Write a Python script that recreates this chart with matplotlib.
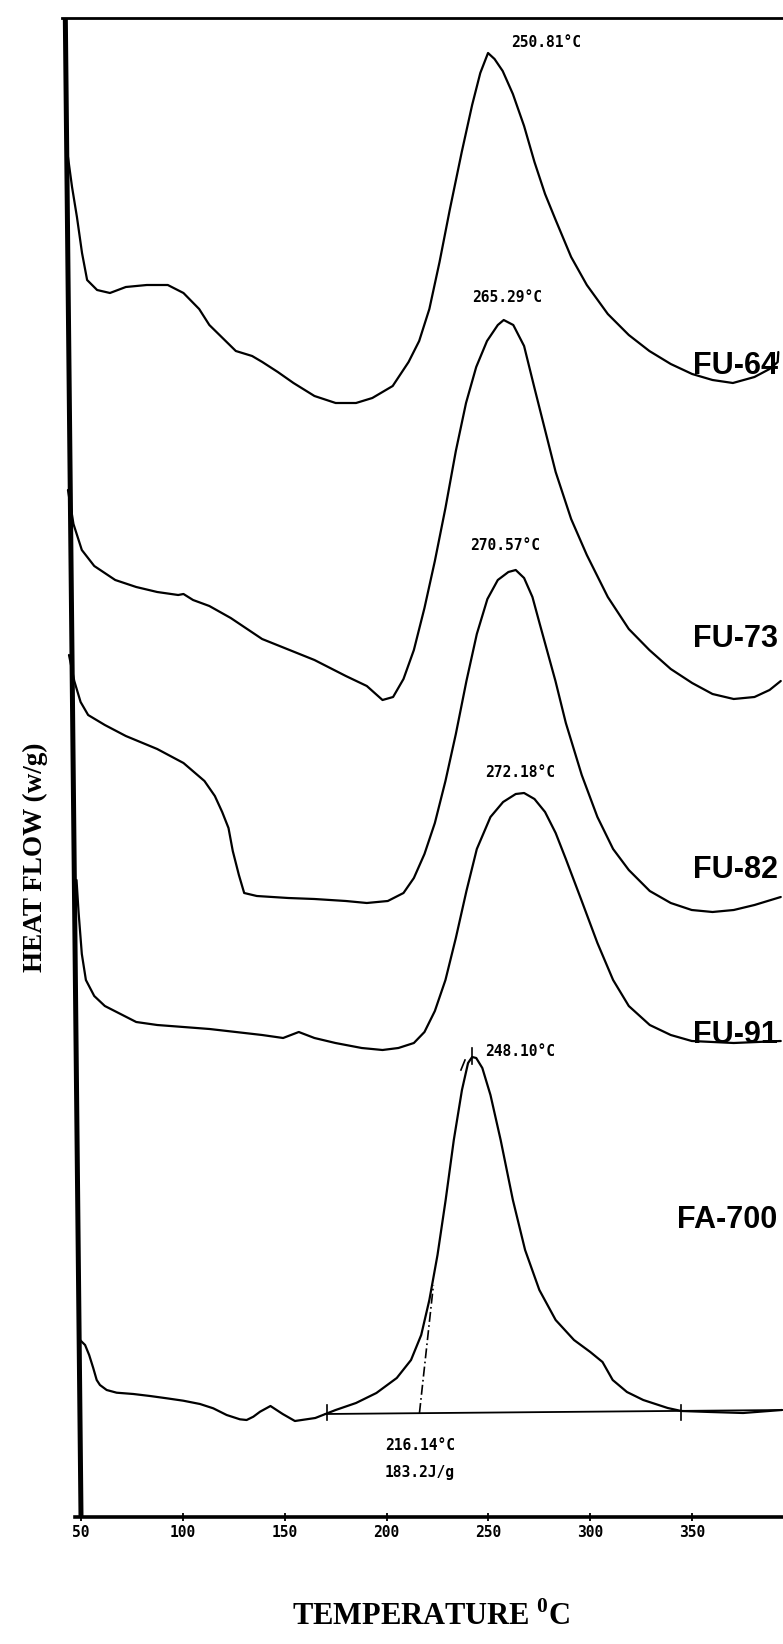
import matplotlib
matplotlib.use("Agg")
import matplotlib.pyplot as plt
import numpy as np

plt.rcParams['mathtext.fontset'] = 'custom'
plt.rcParams['mathtext.bf'] = 'Liberation Serif:bold'
plt.rcParams['mathtext.rm'] = 'Liberation Serif:bold'

# ---- data (temperature in C, vertical position in chart units, larger = lower) ----
fu64_T = [43.6, 45.6, 48, 50.5, 53, 57.9, 64.2, 72, 82.3, 92.6, 100.3, 108, 113, 121, 126, 134, 139,
          146.6, 154.3, 164.6, 175, 185, 193, 203, 210.8, 216, 221, 226, 231, 236.9, 242, 246, 249.8,
          253, 257, 262, 267.5, 272.6, 277.8, 283, 290.6, 298.3, 308.6, 318.9, 329, 339.5, 350, 360,
          370, 380.6, 388, 392, 392.3]
fu64_y = [157, 187, 217, 253, 280, 290, 293, 287, 285, 285, 293, 309, 325, 341, 351, 356, 362,
          372, 383, 396, 403, 403, 398, 386, 362, 341, 309, 262, 210, 152, 105, 73, 53,
          59, 71, 94, 126, 162, 194, 220, 257, 285, 314, 335, 351, 364, 374, 380,
          383, 377, 369, 362, 352]

fu73_T = [43.6, 46.3, 50.4, 56.5, 66.8, 77.1, 87.4, 97.7, 100.3, 105, 113, 123.5, 138.9, 164.6, 180,
          190.3, 198, 203.2, 208.3, 213.4, 218.6, 223.7, 228.9, 234, 239, 244, 249.3, 254.6, 257.5,
          262.2, 267.5, 272.6, 277.8, 283, 290.6, 298.3, 308.6, 318.9, 329, 339.5, 350, 360, 370.4,
          380.6, 388, 393.5]
fu73_y = [490, 524, 550, 566, 580, 587, 592, 595, 594, 600, 606, 618, 639, 660, 676,
          686, 700, 697, 679, 650, 608, 561, 508, 451, 403, 367, 341, 325, 320,
          325, 346, 388, 430, 472, 519, 555, 597, 629, 650, 669, 683, 694, 699,
          697, 690, 681]

fu82_T = [44.1, 46.7, 49.8, 53.5, 61.7, 72, 87.4, 100.3, 110.6, 115.7, 119.3, 122.4, 124.5, 127.5,
          130.1, 136.3, 151.7, 164.6, 180, 190.3, 200.6, 208.3, 213.4, 218.6, 223.7, 228.9, 234,
          239.2, 244.3, 249.5, 254.6, 259.8, 263.4, 267.5, 271.6, 275.2, 282.9, 288, 295.8, 303.5,
          311.2, 318.9, 329.2, 339.5, 349.8, 360, 370.4, 380.6, 393.5]
fu82_y = [655, 681, 702, 715, 725, 736, 749, 763, 781, 796, 812, 828, 851, 875,
          893, 896, 898, 899, 901, 903, 901, 893, 878, 854, 823, 781, 734,
          681, 634, 599, 580, 572, 570, 578, 597, 624, 681, 723, 775, 817,
          849, 870, 891, 903, 910, 912, 910, 905, 897]

fu91_T = [47.8, 48.8, 50.4, 52.4, 56.5, 61.7, 69.4, 77.1, 87.4, 100.3, 113.1, 126, 138.9, 149.2, 156.9,
          164.6, 174.9, 187.8, 198, 205.8, 213.4, 218.6, 223.7, 228.9, 234, 239.2, 244.3, 251, 257.2,
          263.4, 267.5, 272.6, 277.8, 283, 288, 295.8, 303.5, 311.2, 318.9, 329.2, 339.5, 349.8,
          370.4, 393.5]
fu91_y = [880, 912, 954, 980, 996, 1006, 1014, 1022, 1025, 1027, 1029, 1032, 1035, 1038, 1032,
          1038, 1043, 1048, 1050, 1048, 1043, 1032, 1011, 980, 938, 891, 849, 817, 802,
          794, 793, 799, 812, 833, 859, 901, 943, 980, 1006, 1025, 1035, 1041,
          1043, 1041]

fa700_T = [49.5, 52, 54, 56, 57.7, 59.3, 62.6, 67.5, 75.7, 83.9, 92.1, 100.2, 108.4, 114.9, 121.5, 128,
           131.3, 134.6, 137.9, 143, 149, 155, 165, 175, 185, 195, 205, 212, 217, 221, 225, 229, 233,
           237, 240, 242, 244, 247, 251, 256, 262, 268, 275, 283, 292, 300, 306, 311, 318, 326, 338,
           344.7, 359, 375, 394]
fa700_y = [1340, 1345, 1355, 1368, 1380, 1385, 1390, 1392.7, 1394, 1396, 1398.3, 1400.7, 1404, 1408.3,
           1415, 1419.3, 1420, 1416.7, 1411.7, 1406, 1414, 1421, 1418, 1410, 1403, 1393, 1378, 1360,
           1335, 1300, 1255, 1200, 1140, 1090, 1063, 1057, 1058, 1068, 1095, 1140, 1200, 1250, 1290,
           1320, 1340, 1352, 1362, 1380, 1392, 1400, 1408, 1411, 1412, 1413, 1410]

# baseline / onset construction for FA-700
base_T = [170, 394.6]
base_y = [1414, 1410]
base_ticks_T = [171, 344.7]
onset_T = [216.14, 223.0]
onset_y = [1413, 1285]

curve_names = ["FU-64", "FU-73", "FU-82", "FU-91", "FA-700"]
curve_label_y = [366, 639, 870, 1035, 1220]
peak_texts = ["250.81\u00b0C", "265.29\u00b0C", "270.57\u00b0C", "272.18\u00b0C", "248.10\u00b0C"]
peak_text_T = [278.3, 259.1, 258.2, 265.5, 265.5]
peak_text_y = [42, 297, 545, 772, 1051]
onset_texts = ["216.14\u00b0C", "183.2J/g"]
onset_text_T = [216.4, 216.4]
onset_text_y = [1445, 1472]
xticks = [50, 100, 150, 200, 250, 300, 350]

# ---- figure ----
W, H = 783, 1644
fig = plt.figure(figsize=(W / 100, H / 100), dpi=100)
x0, x1, ytop, ybot = 62, 783, 18, 1517
ax = fig.add_axes([x0 / W, (H - ybot) / H, (x1 - x0) / W, (ybot - ytop) / H])
ax.set_xlim(40.67, 394.6)
ax.set_ylim(ybot, ytop)

lw = 1.6
for T, y in [(fu64_T, fu64_y), (fu73_T, fu73_y), (fu82_T, fu82_y), (fu91_T, fu91_y), (fa700_T, fa700_y)]:
    ax.plot(T, y, color='black', lw=lw, solid_joinstyle='round', solid_capstyle='round')

ax.plot(base_T, base_y, color='black', lw=1.3)
for t in base_ticks_T:
    ax.plot([t, t], [1405, 1420], color='black', lw=1.2)
ax.plot(onset_T, onset_y, color='black', lw=1.2, ls=(0, (6, 2, 1, 2)))
ax.plot([242, 242], [1048, 1064], color='black', lw=1.2)
ax.plot([236.5, 238.5], [1070, 1060], color='black', lw=1.2)

# spines
for s in ['left', 'right']:
    ax.spines[s].set_visible(False)
ax.spines['top'].set_linewidth(2.0)
ax.spines['bottom'].set_linewidth(2.6)
ax.spines['bottom'].set_bounds(47, 394.6)
ax.plot([42.3, 50.0], [ytop, ybot], color='black', lw=3.6, clip_on=False, solid_capstyle='butt')

ax.set_yticks([])
ax.set_xticks(xticks)
ax.set_xticklabels([str(v) for v in xticks], fontfamily='DejaVu Sans Mono', fontweight='bold',
                   fontsize=10.5)
ax.tick_params(axis='x', direction='inout', length=6, width=1.3, pad=3)

# labels on curves
for name, yy in zip(curve_names, curve_label_y):
    ax.text(392, yy, name, ha='right', va='center', fontsize=22, fontweight='bold',
            family='Liberation Sans')
for txt, tx, ty in zip(peak_texts, peak_text_T, peak_text_y):
    ax.text(tx, ty, txt, ha='center', va='center', fontsize=10.5, fontweight='bold',
            family='DejaVu Sans Mono')
for txt, tx, ty in zip(onset_texts, onset_text_T, onset_text_y):
    ax.text(tx, ty, txt, ha='center', va='center', fontsize=10.5, fontweight='bold',
            family='DejaVu Sans Mono')

fig.text(35 / W, 1 - 857 / H, "HEAT FLOW (w/g)", rotation=90, ha='center', va='center',
         fontsize=19.5, fontweight='bold', family='Liberation Serif')
fig.text(431 / W, 1 - 1617 / H, r"TEMPERATURE $^{\mathbf{0}}$C", ha='center', va='center',
         fontsize=22, fontweight='bold', family='Liberation Serif')

fig.savefig("out.png", dpi=100)
